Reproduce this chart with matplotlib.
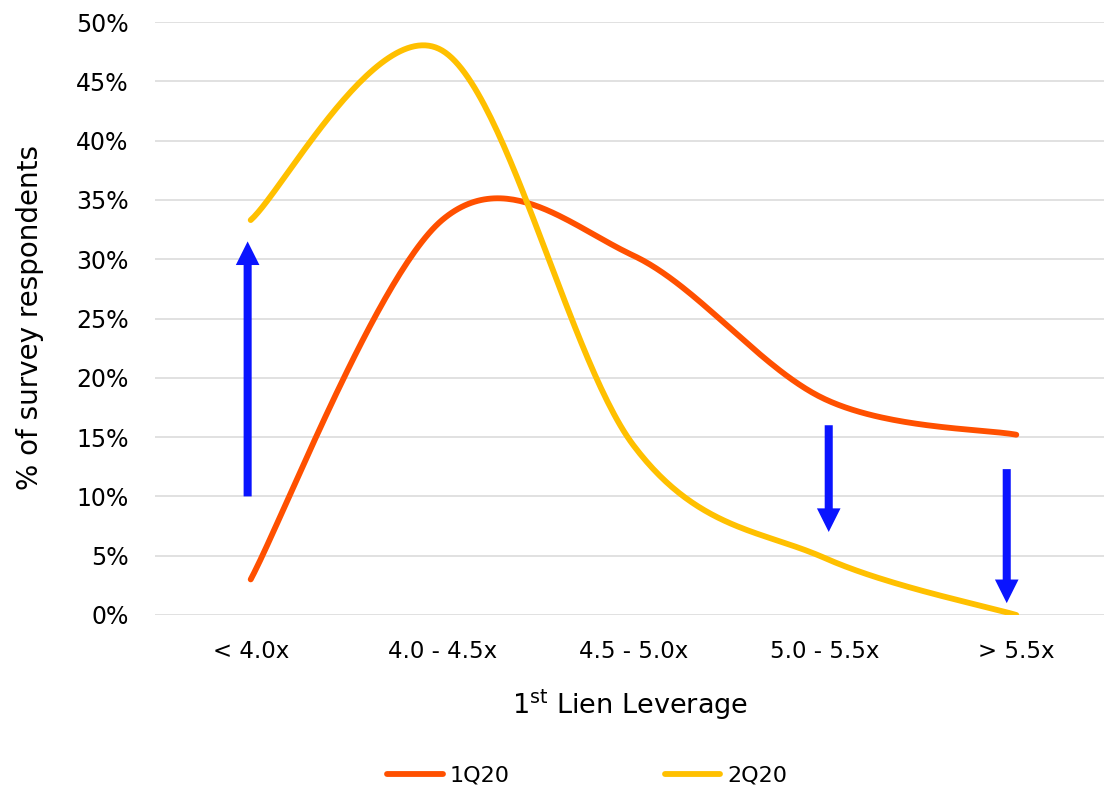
import numpy as np
import matplotlib
matplotlib.use("Agg")
import matplotlib.pyplot as plt
from matplotlib.patches import FancyArrowPatch

categories = ["< 4.0x", "4.0 - 4.5x", "4.5 - 5.0x", "5.0 - 5.5x", "> 5.5x"]
q1_2020 = [3.0, 33.3, 30.3, 18.2, 15.2]
q2_2020 = [33.3, 47.6, 14.3, 4.8, 0.0]
series_names = ["1Q20", "2Q20"]
y_ticks = [0, 5, 10, 15, 20, 25, 30, 35, 40, 45, 50]
y_tick_labels = [f"{v}%" for v in y_ticks]

# arrows: (x position in category units, start %, end %)
arrows = [(-0.016, 10.0, 31.5), (3.02, 16.0, 7.0), (3.95, 12.3, 1.0)]

C1 = "#FF5000"
C2 = "#FFC000"
BLUE = "#0A14FF"


def smooth(xs, ys, n=60):
    """Excel-like Catmull-Rom Bezier smoothing through the data points."""
    P = np.column_stack([xs, ys]).astype(float)
    Pext = np.vstack([P[0], P, P[-1]])
    out = []
    t = np.linspace(0, 1, n)[:, None]
    for i in range(len(P) - 1):
        p0, p1, p2, p3 = Pext[i], Pext[i + 1], Pext[i + 2], Pext[i + 3]
        c1 = p1 + (p2 - p0) / 6.0
        c2 = p2 - (p3 - p1) / 6.0
        seg = ((1 - t) ** 3) * p1 + 3 * ((1 - t) ** 2) * t * c1 + 3 * (1 - t) * t ** 2 * c2 + t ** 3 * p2
        out.append(seg if i == 0 else seg[1:])
    arr = np.vstack(out)
    return arr[:, 0], arr[:, 1]


fig = plt.figure(figsize=(11.04, 7.9), dpi=100)
W, H = 1104, 790
left, right, top, bottom = 155, 1112, 22, 615
ax = fig.add_axes([left / W, 1 - bottom / H, (right - left) / W, (bottom - top) / H])
ax.set_clip_on(False)

x = np.arange(len(categories))
for vals, col, name in [(q1_2020, C1, series_names[0]), (q2_2020, C2, series_names[1])]:
    sx, sy = smooth(x, vals)
    ax.plot(sx, sy, color=col, lw=4.2, solid_capstyle="round", label=name, zorder=3)

for ax_x, y0, y1 in arrows:
    arr = FancyArrowPatch((ax_x, y0), (ax_x, y1),
                          arrowstyle="Simple,head_length=17,head_width=17,tail_width=5.8",
                          mutation_scale=1, shrinkA=0, shrinkB=0,
                          color=BLUE, lw=0, zorder=4)
    ax.add_patch(arr)

ax.set_xlim(-0.5, len(categories) - 0.5)
ax.set_ylim(0, 50)
ax.set_yticks(y_ticks)
ax.set_yticklabels(y_tick_labels, fontsize=17)
ax.set_xticks(x)
ax.set_xticklabels(categories, fontsize=16.5)
ax.tick_params(axis="both", length=0)
ax.tick_params(axis="y", pad=19)
ax.tick_params(axis="x", pad=18)
ax.grid(axis="y", color="#D9D9D9", lw=1.1)
ax.set_axisbelow(True)
for s in ax.spines.values():
    s.set_visible(False)

fig.text(30 / W, 1 - 318 / H, "% of survey respondents", rotation=90,
         ha="center", va="center", fontsize=20)
fig.text(630 / W, 1 - 705 / H, r"1$^{\mathrm{st}}$ Lien Leverage",
         ha="center", va="center", fontsize=19.5)

fig.legend(loc="center", bbox_to_anchor=(587 / W, 1 - 776 / H), ncol=2,
           frameon=False, fontsize=16, handlelength=2.5, handletextpad=0.3,
           columnspacing=7.0)

fig.savefig("out.png", dpi=100)
